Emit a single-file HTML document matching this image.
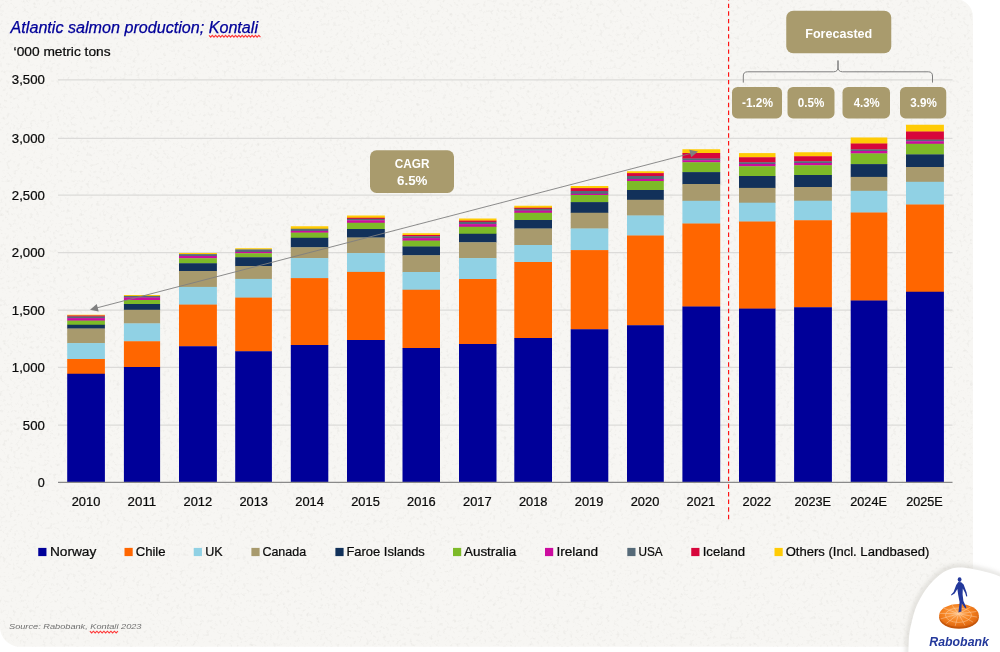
<!DOCTYPE html>
<html lang="en"><head><meta charset="utf-8"><title>Atlantic salmon production</title>
<style>html,body{margin:0;padding:0;background:#fff;}body{width:1000px;height:652px;overflow:hidden;}svg{display:block;}text{font-family:"Liberation Sans", Arial, sans-serif;}</style>
</head><body>
<svg width="1000" height="652" viewBox="0 0 1000 652">
<defs>
<radialGradient id="disc" cx="0.45" cy="0.4" r="0.65"><stop offset="0" stop-color="#FFB266"/><stop offset="0.55" stop-color="#F58220"/><stop offset="1" stop-color="#D9600C"/></radialGradient>
<filter id="sh" x="-20%" y="-20%" width="140%" height="140%"><feGaussianBlur stdDeviation="2.2"/></filter>
<clipPath id="cardclip"><path d="M0,-20 H958 A15,15 0 0 1 973,-5 V646.8 H20 A20,20 0 0 1 0,626.8 Z"/></clipPath>
<filter id="noise" x="0" y="0" width="100%" height="100%"><feTurbulence type="fractalNoise" baseFrequency="0.3" numOctaves="3" seed="7" result="t"/><feColorMatrix type="matrix" values="0 0 0 0 0.80  0 0 0 0 0.79  0 0 0 0 0.76  2.0 0 0 0 -1.08"/></filter>
</defs>
<rect width="1000" height="652" fill="#ffffff"/>
<path d="M0,-20 H973 V646.8 H20 A20,20 0 0 1 0,626.8 Z" fill="#f7f6f3"/>
<rect x="0" y="0" width="973" height="647" filter="url(#noise)" clip-path="url(#cardclip)"/>
<path d="M955,-1 A18,18 0 0 1 973,17 V-1 Z" fill="#ffffff"/>
<path d="M908.00,665.00 C908.40,658.62 908.22,656.53 908.40,651.70 C908.58,646.87 908.67,640.45 909.10,636.00 C909.53,631.55 910.02,629.33 911.00,625.00 C911.98,620.67 913.50,614.33 915.00,610.00 C916.50,605.67 918.00,602.67 920.00,599.00 C922.00,595.33 924.50,591.33 927.00,588.00 C929.50,584.67 932.33,581.58 935.00,579.00 C937.67,576.42 940.17,574.25 943.00,572.50 C945.83,570.75 949.17,569.33 952.00,568.50 C954.83,567.67 957.00,567.50 960.00,567.50 C963.00,567.50 966.67,568.00 970.00,568.50 C973.33,569.00 976.67,569.75 980.00,570.50 C983.33,571.25 986.67,572.00 990.00,573.00 C993.33,574.00 996.33,575.00 1000.00,576.50 C1003.67,578.00 1007.00,579.42 1012.00,582.00 L1012,670 L908,670 Z" fill="none" stroke="#c4c2bc" stroke-width="5" opacity="0.45" filter="url(#sh)" transform="translate(-0.5,-0.8)"/>
<path d="M908.00,665.00 C908.40,658.62 908.22,656.53 908.40,651.70 C908.58,646.87 908.67,640.45 909.10,636.00 C909.53,631.55 910.02,629.33 911.00,625.00 C911.98,620.67 913.50,614.33 915.00,610.00 C916.50,605.67 918.00,602.67 920.00,599.00 C922.00,595.33 924.50,591.33 927.00,588.00 C929.50,584.67 932.33,581.58 935.00,579.00 C937.67,576.42 940.17,574.25 943.00,572.50 C945.83,570.75 949.17,569.33 952.00,568.50 C954.83,567.67 957.00,567.50 960.00,567.50 C963.00,567.50 966.67,568.00 970.00,568.50 C973.33,569.00 976.67,569.75 980.00,570.50 C983.33,571.25 986.67,572.00 990.00,573.00 C993.33,574.00 996.33,575.00 1000.00,576.50 C1003.67,578.00 1007.00,579.42 1012.00,582.00 L1012,670 L908,670 Z" fill="#ffffff"/>
<line x1="58" x2="952.5" y1="79.8" y2="79.8" stroke="#dcdbd9" stroke-width="1.25"/>
<line x1="58" x2="952.5" y1="138.3" y2="138.3" stroke="#dcdbd9" stroke-width="1.25"/>
<line x1="58" x2="952.5" y1="195.2" y2="195.2" stroke="#dcdbd9" stroke-width="1.25"/>
<line x1="58" x2="952.5" y1="252.5" y2="252.5" stroke="#dcdbd9" stroke-width="1.25"/>
<line x1="58" x2="952.5" y1="310.0" y2="310.0" stroke="#dcdbd9" stroke-width="1.25"/>
<line x1="58" x2="952.5" y1="367.4" y2="367.4" stroke="#dcdbd9" stroke-width="1.25"/>
<line x1="58" x2="952.5" y1="425.0" y2="425.0" stroke="#dcdbd9" stroke-width="1.25"/>
<rect x="67.20" y="314.75" width="37.70" height="1.05" fill="#FFCB05"/>
<rect x="67.20" y="315.50" width="37.70" height="1.30" fill="#D7063B"/>
<rect x="67.20" y="316.50" width="37.70" height="1.90" fill="#566A78"/>
<rect x="67.20" y="318.10" width="37.70" height="2.80" fill="#CC0C9F"/>
<rect x="67.20" y="320.60" width="37.70" height="4.45" fill="#7DBA28"/>
<rect x="67.20" y="324.75" width="37.70" height="4.05" fill="#12315A"/>
<rect x="67.20" y="328.50" width="37.70" height="14.90" fill="#A89A6D"/>
<rect x="67.20" y="343.10" width="37.70" height="16.20" fill="#90D1E4"/>
<rect x="67.20" y="359.00" width="37.70" height="15.05" fill="#FF6600"/>
<rect x="67.20" y="373.75" width="37.70" height="108.25" fill="#000099"/>
<rect x="123.90" y="295.00" width="36.20" height="1.20" fill="#FFCB05"/>
<rect x="123.90" y="295.90" width="36.20" height="1.90" fill="#566A78"/>
<rect x="123.90" y="297.50" width="36.20" height="2.80" fill="#CC0C9F"/>
<rect x="123.90" y="300.00" width="36.20" height="4.30" fill="#7DBA28"/>
<rect x="123.90" y="304.00" width="36.20" height="6.05" fill="#12315A"/>
<rect x="123.90" y="309.75" width="36.20" height="13.95" fill="#A89A6D"/>
<rect x="123.90" y="323.40" width="36.20" height="18.15" fill="#90D1E4"/>
<rect x="123.90" y="341.25" width="36.20" height="26.05" fill="#FF6600"/>
<rect x="123.90" y="367.00" width="36.20" height="115.00" fill="#000099"/>
<rect x="179.00" y="253.00" width="37.90" height="1.40" fill="#FFCB05"/>
<rect x="179.00" y="254.10" width="37.90" height="2.20" fill="#566A78"/>
<rect x="179.00" y="256.00" width="37.90" height="2.55" fill="#CC0C9F"/>
<rect x="179.00" y="258.25" width="37.90" height="5.30" fill="#7DBA28"/>
<rect x="179.00" y="263.25" width="37.90" height="8.05" fill="#12315A"/>
<rect x="179.00" y="271.00" width="37.90" height="16.20" fill="#A89A6D"/>
<rect x="179.00" y="286.90" width="37.90" height="18.00" fill="#90D1E4"/>
<rect x="179.00" y="304.60" width="37.90" height="41.95" fill="#FF6600"/>
<rect x="179.00" y="346.25" width="37.90" height="135.75" fill="#000099"/>
<rect x="235.20" y="248.25" width="36.70" height="1.45" fill="#FFCB05"/>
<rect x="235.20" y="249.40" width="36.70" height="2.80" fill="#566A78"/>
<rect x="235.20" y="251.90" width="36.70" height="1.65" fill="#CC0C9F"/>
<rect x="235.20" y="253.25" width="36.70" height="4.30" fill="#7DBA28"/>
<rect x="235.20" y="257.25" width="36.70" height="9.05" fill="#12315A"/>
<rect x="235.20" y="266.00" width="36.70" height="13.20" fill="#A89A6D"/>
<rect x="235.20" y="278.90" width="36.70" height="19.00" fill="#90D1E4"/>
<rect x="235.20" y="297.60" width="36.70" height="53.95" fill="#FF6600"/>
<rect x="235.20" y="351.25" width="36.70" height="130.75" fill="#000099"/>
<rect x="290.80" y="226.25" width="37.50" height="2.80" fill="#FFCB05"/>
<rect x="290.80" y="228.75" width="37.50" height="2.45" fill="#566A78"/>
<rect x="290.80" y="230.90" width="37.50" height="2.00" fill="#CC0C9F"/>
<rect x="290.80" y="232.60" width="37.50" height="5.45" fill="#7DBA28"/>
<rect x="290.80" y="237.75" width="37.50" height="9.80" fill="#12315A"/>
<rect x="290.80" y="247.25" width="37.50" height="11.15" fill="#A89A6D"/>
<rect x="290.80" y="258.10" width="37.50" height="20.30" fill="#90D1E4"/>
<rect x="290.80" y="278.10" width="37.50" height="67.20" fill="#FF6600"/>
<rect x="290.80" y="345.00" width="37.50" height="137.00" fill="#000099"/>
<rect x="347.00" y="215.50" width="37.80" height="2.55" fill="#FFCB05"/>
<rect x="347.00" y="217.75" width="37.80" height="1.30" fill="#D7063B"/>
<rect x="347.00" y="218.75" width="37.80" height="1.80" fill="#566A78"/>
<rect x="347.00" y="220.25" width="37.80" height="2.80" fill="#CC0C9F"/>
<rect x="347.00" y="222.75" width="37.80" height="6.55" fill="#7DBA28"/>
<rect x="347.00" y="229.00" width="37.80" height="8.80" fill="#12315A"/>
<rect x="347.00" y="237.50" width="37.80" height="15.90" fill="#A89A6D"/>
<rect x="347.00" y="253.10" width="37.80" height="19.10" fill="#90D1E4"/>
<rect x="347.00" y="271.90" width="37.80" height="68.40" fill="#FF6600"/>
<rect x="347.00" y="340.00" width="37.80" height="142.00" fill="#000099"/>
<rect x="402.50" y="233.25" width="37.50" height="2.05" fill="#FFCB05"/>
<rect x="402.50" y="235.00" width="37.50" height="1.55" fill="#D7063B"/>
<rect x="402.50" y="236.25" width="37.50" height="2.15" fill="#566A78"/>
<rect x="402.50" y="238.10" width="37.50" height="2.80" fill="#CC0C9F"/>
<rect x="402.50" y="240.60" width="37.50" height="6.20" fill="#7DBA28"/>
<rect x="402.50" y="246.50" width="37.50" height="9.05" fill="#12315A"/>
<rect x="402.50" y="255.25" width="37.50" height="17.05" fill="#A89A6D"/>
<rect x="402.50" y="272.00" width="37.50" height="18.05" fill="#90D1E4"/>
<rect x="402.50" y="289.75" width="37.50" height="58.55" fill="#FF6600"/>
<rect x="402.50" y="348.00" width="37.50" height="134.00" fill="#000099"/>
<rect x="459.00" y="218.50" width="37.50" height="2.40" fill="#FFCB05"/>
<rect x="459.00" y="220.60" width="37.50" height="1.60" fill="#D7063B"/>
<rect x="459.00" y="221.90" width="37.50" height="2.50" fill="#566A78"/>
<rect x="459.00" y="224.10" width="37.50" height="2.95" fill="#CC0C9F"/>
<rect x="459.00" y="226.75" width="37.50" height="7.30" fill="#7DBA28"/>
<rect x="459.00" y="233.75" width="37.50" height="8.80" fill="#12315A"/>
<rect x="459.00" y="242.25" width="37.50" height="16.15" fill="#A89A6D"/>
<rect x="459.00" y="258.10" width="37.50" height="21.20" fill="#90D1E4"/>
<rect x="459.00" y="279.00" width="37.50" height="65.30" fill="#FF6600"/>
<rect x="459.00" y="344.00" width="37.50" height="138.00" fill="#000099"/>
<rect x="514.30" y="205.75" width="37.70" height="2.30" fill="#FFCB05"/>
<rect x="514.30" y="207.75" width="37.70" height="1.30" fill="#D7063B"/>
<rect x="514.30" y="208.75" width="37.70" height="2.15" fill="#566A78"/>
<rect x="514.30" y="210.60" width="37.70" height="2.45" fill="#CC0C9F"/>
<rect x="514.30" y="212.75" width="37.70" height="7.55" fill="#7DBA28"/>
<rect x="514.30" y="220.00" width="37.70" height="8.80" fill="#12315A"/>
<rect x="514.30" y="228.50" width="37.70" height="16.80" fill="#A89A6D"/>
<rect x="514.30" y="245.00" width="37.70" height="17.30" fill="#90D1E4"/>
<rect x="514.30" y="262.00" width="37.70" height="76.30" fill="#FF6600"/>
<rect x="514.30" y="338.00" width="37.70" height="144.00" fill="#000099"/>
<rect x="570.70" y="186.00" width="37.60" height="2.40" fill="#FFCB05"/>
<rect x="570.70" y="188.10" width="37.60" height="3.20" fill="#D7063B"/>
<rect x="570.70" y="191.00" width="37.60" height="3.05" fill="#566A78"/>
<rect x="570.70" y="193.75" width="37.60" height="1.55" fill="#CC0C9F"/>
<rect x="570.70" y="195.00" width="37.60" height="7.40" fill="#7DBA28"/>
<rect x="570.70" y="202.10" width="37.60" height="10.95" fill="#12315A"/>
<rect x="570.70" y="212.75" width="37.60" height="16.05" fill="#A89A6D"/>
<rect x="570.70" y="228.50" width="37.60" height="21.90" fill="#90D1E4"/>
<rect x="570.70" y="250.10" width="37.60" height="79.45" fill="#FF6600"/>
<rect x="570.70" y="329.25" width="37.60" height="152.75" fill="#000099"/>
<rect x="627.00" y="171.25" width="36.80" height="2.15" fill="#FFCB05"/>
<rect x="627.00" y="173.10" width="36.80" height="3.20" fill="#D7063B"/>
<rect x="627.00" y="176.00" width="36.80" height="3.30" fill="#566A78"/>
<rect x="627.00" y="179.00" width="36.80" height="2.30" fill="#CC0C9F"/>
<rect x="627.00" y="181.00" width="36.80" height="9.30" fill="#7DBA28"/>
<rect x="627.00" y="190.00" width="36.80" height="10.05" fill="#12315A"/>
<rect x="627.00" y="199.75" width="36.80" height="16.05" fill="#A89A6D"/>
<rect x="627.00" y="215.50" width="36.80" height="20.30" fill="#90D1E4"/>
<rect x="627.00" y="235.50" width="36.80" height="90.05" fill="#FF6600"/>
<rect x="627.00" y="325.25" width="36.80" height="156.75" fill="#000099"/>
<rect x="682.40" y="149.25" width="37.80" height="4.05" fill="#FFCB05"/>
<rect x="682.40" y="153.00" width="37.80" height="5.80" fill="#D7063B"/>
<rect x="682.40" y="158.50" width="37.80" height="2.05" fill="#566A78"/>
<rect x="682.40" y="160.25" width="37.80" height="2.30" fill="#CC0C9F"/>
<rect x="682.40" y="162.25" width="37.80" height="10.15" fill="#7DBA28"/>
<rect x="682.40" y="172.10" width="37.80" height="12.20" fill="#12315A"/>
<rect x="682.40" y="184.00" width="37.80" height="17.10" fill="#A89A6D"/>
<rect x="682.40" y="200.80" width="37.80" height="23.00" fill="#90D1E4"/>
<rect x="682.40" y="223.50" width="37.80" height="83.30" fill="#FF6600"/>
<rect x="682.40" y="306.50" width="37.80" height="175.50" fill="#000099"/>
<rect x="739.00" y="153.10" width="36.50" height="4.45" fill="#FFCB05"/>
<rect x="739.00" y="157.25" width="36.50" height="5.30" fill="#D7063B"/>
<rect x="739.00" y="162.25" width="36.50" height="2.05" fill="#566A78"/>
<rect x="739.00" y="164.00" width="36.50" height="2.55" fill="#CC0C9F"/>
<rect x="739.00" y="166.25" width="36.50" height="10.05" fill="#7DBA28"/>
<rect x="739.00" y="176.00" width="36.50" height="12.20" fill="#12315A"/>
<rect x="739.00" y="187.90" width="36.50" height="15.10" fill="#A89A6D"/>
<rect x="739.00" y="202.70" width="36.50" height="19.10" fill="#90D1E4"/>
<rect x="739.00" y="221.50" width="36.50" height="87.40" fill="#FF6600"/>
<rect x="739.00" y="308.60" width="36.50" height="173.40" fill="#000099"/>
<rect x="794.10" y="152.25" width="37.80" height="4.30" fill="#FFCB05"/>
<rect x="794.10" y="156.25" width="37.80" height="5.30" fill="#D7063B"/>
<rect x="794.10" y="161.25" width="37.80" height="2.05" fill="#566A78"/>
<rect x="794.10" y="163.00" width="37.80" height="2.55" fill="#CC0C9F"/>
<rect x="794.10" y="165.25" width="37.80" height="10.05" fill="#7DBA28"/>
<rect x="794.10" y="175.00" width="37.80" height="12.30" fill="#12315A"/>
<rect x="794.10" y="187.00" width="37.80" height="14.00" fill="#A89A6D"/>
<rect x="794.10" y="200.70" width="37.80" height="19.85" fill="#90D1E4"/>
<rect x="794.10" y="220.25" width="37.80" height="87.30" fill="#FF6600"/>
<rect x="794.10" y="307.25" width="37.80" height="174.75" fill="#000099"/>
<rect x="850.70" y="137.50" width="36.60" height="6.30" fill="#FFCB05"/>
<rect x="850.70" y="143.50" width="36.60" height="6.20" fill="#D7063B"/>
<rect x="850.70" y="149.40" width="36.60" height="1.90" fill="#566A78"/>
<rect x="850.70" y="151.00" width="36.60" height="2.70" fill="#CC0C9F"/>
<rect x="850.70" y="153.40" width="36.60" height="11.00" fill="#7DBA28"/>
<rect x="850.70" y="164.10" width="36.60" height="13.10" fill="#12315A"/>
<rect x="850.70" y="176.90" width="36.60" height="14.20" fill="#A89A6D"/>
<rect x="850.70" y="190.80" width="36.60" height="22.00" fill="#90D1E4"/>
<rect x="850.70" y="212.50" width="36.60" height="88.30" fill="#FF6600"/>
<rect x="850.70" y="300.50" width="36.60" height="181.50" fill="#000099"/>
<rect x="906.00" y="124.75" width="37.90" height="7.05" fill="#FFCB05"/>
<rect x="906.00" y="131.50" width="37.90" height="8.40" fill="#D7063B"/>
<rect x="906.00" y="139.60" width="37.90" height="1.95" fill="#566A78"/>
<rect x="906.00" y="141.25" width="37.90" height="2.80" fill="#CC0C9F"/>
<rect x="906.00" y="143.75" width="37.90" height="10.95" fill="#7DBA28"/>
<rect x="906.00" y="154.40" width="37.90" height="12.90" fill="#12315A"/>
<rect x="906.00" y="167.00" width="37.90" height="15.10" fill="#A89A6D"/>
<rect x="906.00" y="181.80" width="37.90" height="23.00" fill="#90D1E4"/>
<rect x="906.00" y="204.50" width="37.90" height="87.55" fill="#FF6600"/>
<rect x="906.00" y="291.75" width="37.90" height="190.25" fill="#000099"/>
<line x1="58" x2="952.5" y1="482.4" y2="482.4" stroke="#8a8a8a" stroke-width="1.1"/>
<text x="44.8" y="84.4" font-size="12.2" text-anchor="end" fill="#0a0a0a" stroke="#0a0a0a" stroke-width="0.22" textLength="33" lengthAdjust="spacingAndGlyphs">3,500</text>
<text x="44.8" y="142.9" font-size="12.2" text-anchor="end" fill="#0a0a0a" stroke="#0a0a0a" stroke-width="0.22" textLength="33" lengthAdjust="spacingAndGlyphs">3,000</text>
<text x="44.8" y="199.8" font-size="12.2" text-anchor="end" fill="#0a0a0a" stroke="#0a0a0a" stroke-width="0.22" textLength="33" lengthAdjust="spacingAndGlyphs">2,500</text>
<text x="44.8" y="257.1" font-size="12.2" text-anchor="end" fill="#0a0a0a" stroke="#0a0a0a" stroke-width="0.22" textLength="33" lengthAdjust="spacingAndGlyphs">2,000</text>
<text x="44.8" y="314.6" font-size="12.2" text-anchor="end" fill="#0a0a0a" stroke="#0a0a0a" stroke-width="0.22" textLength="33" lengthAdjust="spacingAndGlyphs">1,500</text>
<text x="44.8" y="372.0" font-size="12.2" text-anchor="end" fill="#0a0a0a" stroke="#0a0a0a" stroke-width="0.22" textLength="33" lengthAdjust="spacingAndGlyphs">1,000</text>
<text x="44.8" y="429.6" font-size="12.2" text-anchor="end" fill="#0a0a0a" stroke="#0a0a0a" stroke-width="0.22" textLength="22" lengthAdjust="spacingAndGlyphs">500</text>
<text x="44.8" y="486.6" font-size="12.2" text-anchor="end" fill="#0a0a0a" stroke="#0a0a0a" stroke-width="0.22" textLength="7" lengthAdjust="spacingAndGlyphs">0</text>
<text x="86.0" y="505.6" font-size="12.2" text-anchor="middle" fill="#0a0a0a" stroke="#0a0a0a" stroke-width="0.22" textLength="28.6" lengthAdjust="spacingAndGlyphs">2010</text>
<text x="141.9" y="505.6" font-size="12.2" text-anchor="middle" fill="#0a0a0a" stroke="#0a0a0a" stroke-width="0.22" textLength="28.6" lengthAdjust="spacingAndGlyphs">2011</text>
<text x="197.8" y="505.6" font-size="12.2" text-anchor="middle" fill="#0a0a0a" stroke="#0a0a0a" stroke-width="0.22" textLength="28.6" lengthAdjust="spacingAndGlyphs">2012</text>
<text x="253.7" y="505.6" font-size="12.2" text-anchor="middle" fill="#0a0a0a" stroke="#0a0a0a" stroke-width="0.22" textLength="28.6" lengthAdjust="spacingAndGlyphs">2013</text>
<text x="309.6" y="505.6" font-size="12.2" text-anchor="middle" fill="#0a0a0a" stroke="#0a0a0a" stroke-width="0.22" textLength="28.6" lengthAdjust="spacingAndGlyphs">2014</text>
<text x="365.5" y="505.6" font-size="12.2" text-anchor="middle" fill="#0a0a0a" stroke="#0a0a0a" stroke-width="0.22" textLength="28.6" lengthAdjust="spacingAndGlyphs">2015</text>
<text x="421.4" y="505.6" font-size="12.2" text-anchor="middle" fill="#0a0a0a" stroke="#0a0a0a" stroke-width="0.22" textLength="28.6" lengthAdjust="spacingAndGlyphs">2016</text>
<text x="477.3" y="505.6" font-size="12.2" text-anchor="middle" fill="#0a0a0a" stroke="#0a0a0a" stroke-width="0.22" textLength="28.6" lengthAdjust="spacingAndGlyphs">2017</text>
<text x="533.2" y="505.6" font-size="12.2" text-anchor="middle" fill="#0a0a0a" stroke="#0a0a0a" stroke-width="0.22" textLength="28.6" lengthAdjust="spacingAndGlyphs">2018</text>
<text x="589.1" y="505.6" font-size="12.2" text-anchor="middle" fill="#0a0a0a" stroke="#0a0a0a" stroke-width="0.22" textLength="28.6" lengthAdjust="spacingAndGlyphs">2019</text>
<text x="645.0" y="505.6" font-size="12.2" text-anchor="middle" fill="#0a0a0a" stroke="#0a0a0a" stroke-width="0.22" textLength="28.6" lengthAdjust="spacingAndGlyphs">2020</text>
<text x="700.9" y="505.6" font-size="12.2" text-anchor="middle" fill="#0a0a0a" stroke="#0a0a0a" stroke-width="0.22" textLength="28.6" lengthAdjust="spacingAndGlyphs">2021</text>
<text x="756.8" y="505.6" font-size="12.2" text-anchor="middle" fill="#0a0a0a" stroke="#0a0a0a" stroke-width="0.22" textLength="28.6" lengthAdjust="spacingAndGlyphs">2022</text>
<text x="812.7" y="505.6" font-size="12.2" text-anchor="middle" fill="#0a0a0a" stroke="#0a0a0a" stroke-width="0.22" textLength="36.6" lengthAdjust="spacingAndGlyphs">2023E</text>
<text x="868.6" y="505.6" font-size="12.2" text-anchor="middle" fill="#0a0a0a" stroke="#0a0a0a" stroke-width="0.22" textLength="36.6" lengthAdjust="spacingAndGlyphs">2024E</text>
<text x="924.5" y="505.6" font-size="12.2" text-anchor="middle" fill="#0a0a0a" stroke="#0a0a0a" stroke-width="0.22" textLength="36.6" lengthAdjust="spacingAndGlyphs">2025E</text>
<text x="10.6" y="33.4" font-size="15.6" font-style="italic" fill="#000099" stroke="#000099" stroke-width="0.25" textLength="247.4" lengthAdjust="spacingAndGlyphs">Atlantic salmon production; Kontali</text>
<path d="M209,35.3 l1.66,1.9 l1.66,-1.9 l1.66,1.9 l1.66,-1.9 l1.66,1.9 l1.66,-1.9 l1.66,1.9 l1.66,-1.9 l1.66,1.9 l1.66,-1.9 l1.66,1.9 l1.66,-1.9 l1.66,1.9 l1.66,-1.9 l1.66,1.9 l1.66,-1.9 l1.66,1.9 l1.66,-1.9 l1.66,1.9 l1.66,-1.9 l1.66,1.9 l1.66,-1.9 l1.66,1.9 l1.66,-1.9 l1.66,1.9 l1.66,-1.9 l1.66,1.9 l1.66,-1.9 l1.66,1.9 l1.66,-1.9 l1.66,1.9" fill="none" stroke="#ff3a3a" stroke-width="1.1"/>
<text x="13.6" y="56" font-size="12.2" fill="#0a0a0a" stroke="#0a0a0a" stroke-width="0.22" textLength="97" lengthAdjust="spacingAndGlyphs">‘000 metric tons</text>
<line x1="728.6" x2="728.6" y1="-3.97" y2="519.3" stroke="#ff1010" stroke-width="1.15" stroke-dasharray="4.4,3.23"/>
<g stroke="#7f7f7f" fill="#7f7f7f"><line x1="96" y1="308.1" x2="692" y2="153.1" stroke-width="0.9"/>
<polygon points="90.00,309.75 96.76,303.96 98.72,311.51" stroke="none"/>
<polygon points="698.00,151.50 691.24,157.29 689.28,149.74" stroke="none"/>
</g>
<rect x="786.25" y="10.75" width="105.00" height="42.50" rx="7" ry="7" fill="#A99B6D"/>
<text x="805.25" y="37.50" font-size="13" font-weight="bold" fill="#ffffff" textLength="67.00" lengthAdjust="spacingAndGlyphs">Forecasted</text>
<rect x="732.00" y="87.00" width="50.00" height="31.40" rx="5.5" ry="5.5" fill="#A99B6D"/>
<text x="742.00" y="107.00" font-size="12" font-weight="bold" fill="#ffffff" textLength="31.00" lengthAdjust="spacingAndGlyphs">-1.2%</text>
<rect x="787.50" y="87.00" width="47.00" height="31.40" rx="5.5" ry="5.5" fill="#A99B6D"/>
<text x="797.75" y="107.00" font-size="12" font-weight="bold" fill="#ffffff" textLength="26.50" lengthAdjust="spacingAndGlyphs">0.5%</text>
<rect x="842.50" y="87.00" width="47.50" height="31.40" rx="5.5" ry="5.5" fill="#A99B6D"/>
<text x="853.75" y="107.00" font-size="12" font-weight="bold" fill="#ffffff" textLength="26.00" lengthAdjust="spacingAndGlyphs">4.3%</text>
<rect x="900.00" y="87.00" width="46.25" height="31.40" rx="5.5" ry="5.5" fill="#A99B6D"/>
<text x="910.25" y="107.00" font-size="12" font-weight="bold" fill="#ffffff" textLength="26.50" lengthAdjust="spacingAndGlyphs">3.9%</text>
<rect x="370.00" y="150.30" width="84.00" height="42.60" rx="6.5" ry="6.5" fill="#A99B6D"/>
<text x="394.75" y="167.80" font-size="12.4" font-weight="bold" fill="#ffffff" textLength="34.75" lengthAdjust="spacingAndGlyphs">CAGR</text>
<text x="397.00" y="185.00" font-size="12.4" font-weight="bold" fill="#ffffff" textLength="30.50" lengthAdjust="spacingAndGlyphs">6.5%</text>
<path d="M743.3,82.6 V76 Q743.3,71.8 747.5,71.8 H833.5 Q838,71.8 838,67 V60.5 V67 Q838,71.8 842.5,71.8 H928.3 Q932.5,71.8 932.5,76 V82.6" fill="none" stroke="#7f7f7f" stroke-width="1"/>
<rect x="38.25" y="547.9" width="8.2" height="8.2" fill="#000099"/>
<text x="49.90" y="555.8" font-size="12.2" fill="#0a0a0a" stroke="#0a0a0a" stroke-width="0.22" textLength="46.45" lengthAdjust="spacingAndGlyphs">Norway</text>
<rect x="124.50" y="547.9" width="8.2" height="8.2" fill="#FF6600"/>
<text x="135.65" y="555.8" font-size="12.2" fill="#0a0a0a" stroke="#0a0a0a" stroke-width="0.22" textLength="29.95" lengthAdjust="spacingAndGlyphs">Chile</text>
<rect x="193.75" y="547.9" width="8.2" height="8.2" fill="#90D1E4"/>
<text x="205.15" y="555.8" font-size="12.2" fill="#0a0a0a" stroke="#0a0a0a" stroke-width="0.22" textLength="17.45" lengthAdjust="spacingAndGlyphs">UK</text>
<rect x="251.40" y="547.9" width="8.2" height="8.2" fill="#A89A6D"/>
<text x="262.40" y="555.8" font-size="12.2" fill="#0a0a0a" stroke="#0a0a0a" stroke-width="0.22" textLength="43.70" lengthAdjust="spacingAndGlyphs">Canada</text>
<rect x="335.40" y="547.9" width="8.2" height="8.2" fill="#12315A"/>
<text x="346.40" y="555.8" font-size="12.2" fill="#0a0a0a" stroke="#0a0a0a" stroke-width="0.22" textLength="78.45" lengthAdjust="spacingAndGlyphs">Faroe Islands</text>
<rect x="453.00" y="547.9" width="8.2" height="8.2" fill="#7DBA28"/>
<text x="463.90" y="555.8" font-size="12.2" fill="#0a0a0a" stroke="#0a0a0a" stroke-width="0.22" textLength="52.45" lengthAdjust="spacingAndGlyphs">Australia</text>
<rect x="545.00" y="547.9" width="8.2" height="8.2" fill="#CC0C9F"/>
<text x="556.40" y="555.8" font-size="12.2" fill="#0a0a0a" stroke="#0a0a0a" stroke-width="0.22" textLength="41.70" lengthAdjust="spacingAndGlyphs">Ireland</text>
<rect x="627.30" y="547.9" width="8.2" height="8.2" fill="#566A78"/>
<text x="638.40" y="555.8" font-size="12.2" fill="#0a0a0a" stroke="#0a0a0a" stroke-width="0.22" textLength="24.20" lengthAdjust="spacingAndGlyphs">USA</text>
<rect x="691.25" y="547.9" width="8.2" height="8.2" fill="#D7063B"/>
<text x="702.65" y="555.8" font-size="12.2" fill="#0a0a0a" stroke="#0a0a0a" stroke-width="0.22" textLength="42.45" lengthAdjust="spacingAndGlyphs">Iceland</text>
<rect x="774.50" y="547.9" width="8.2" height="8.2" fill="#FFCB05"/>
<text x="785.65" y="555.8" font-size="12.2" fill="#0a0a0a" stroke="#0a0a0a" stroke-width="0.22" textLength="143.70" lengthAdjust="spacingAndGlyphs">Others (Incl. Landbased)</text>
<text x="9" y="629" font-size="8" font-style="italic" fill="#6f6f6f" textLength="132.5" lengthAdjust="spacingAndGlyphs">Source: Rabobank, Kontali 2023</text>
<path d="M89.9,631.2 l1.75,1.8 l1.75,-1.8 l1.75,1.8 l1.75,-1.8 l1.75,1.8 l1.75,-1.8 l1.75,1.8 l1.75,-1.8 l1.75,1.8 l1.75,-1.8 l1.75,1.8 l1.75,-1.8 l1.75,1.8 l1.75,-1.8 l1.75,1.8 l1.75,-1.8" fill="none" stroke="#ff3a3a" stroke-width="1.1"/>
<g>
<ellipse cx="959" cy="617.6" rx="19.8" ry="11.2" fill="#C4560A"/>
<ellipse cx="959" cy="615.4" rx="19.8" ry="11.4" fill="url(#disc)"/>
<g stroke="#ffe1c4" stroke-width="0.6" fill="none" opacity="0.7">
<ellipse cx="958.5" cy="615.2" rx="13" ry="7.2"/>
<line x1="958.5" y1="613.8" x2="977.21" y2="617.08"/>
<line x1="958.5" y1="613.8" x2="973.05" y2="622.14"/>
<line x1="958.5" y1="613.8" x2="965.00" y2="625.35"/>
<line x1="958.5" y1="613.8" x2="955.20" y2="625.84"/>
<line x1="958.5" y1="613.8" x2="946.29" y2="623.47"/>
<line x1="958.5" y1="613.8" x2="940.65" y2="618.89"/>
<line x1="958.5" y1="613.8" x2="939.79" y2="613.32"/>
<line x1="958.5" y1="613.8" x2="943.95" y2="608.26"/>
<line x1="958.5" y1="613.8" x2="952.00" y2="605.05"/>
<line x1="958.5" y1="613.8" x2="961.80" y2="604.56"/>
<line x1="958.5" y1="613.8" x2="970.71" y2="606.93"/>
<line x1="958.5" y1="613.8" x2="976.35" y2="611.51"/>
</g>
<g fill="#23389B">
<ellipse cx="959.6" cy="579.6" rx="1.9" ry="2.3"/>
<path d="M958.3,582 L961.2,582.2 L963.6,584.6 L966.6,592.6 L967.3,596.2 L966.2,596.4 L965.2,593 L962.8,588.6 L962.6,594.5 L963.4,601 L966.4,607.4 L965.4,608.6 L961.8,603.4 L961.4,611.6 L958.4,612.4 L958.6,611 L959.6,602 L958.2,595 L957.4,589 L954.6,593.6 L951.4,595.6 L951,594.8 L953.6,592 L956.2,585 Z"/>
</g>
<text x="929.3" y="646.1" font-size="13.2" font-weight="bold" font-style="italic" fill="#23389B" textLength="59.6" lengthAdjust="spacingAndGlyphs">Rabobank</text>
</g>
</svg>
</body></html>
